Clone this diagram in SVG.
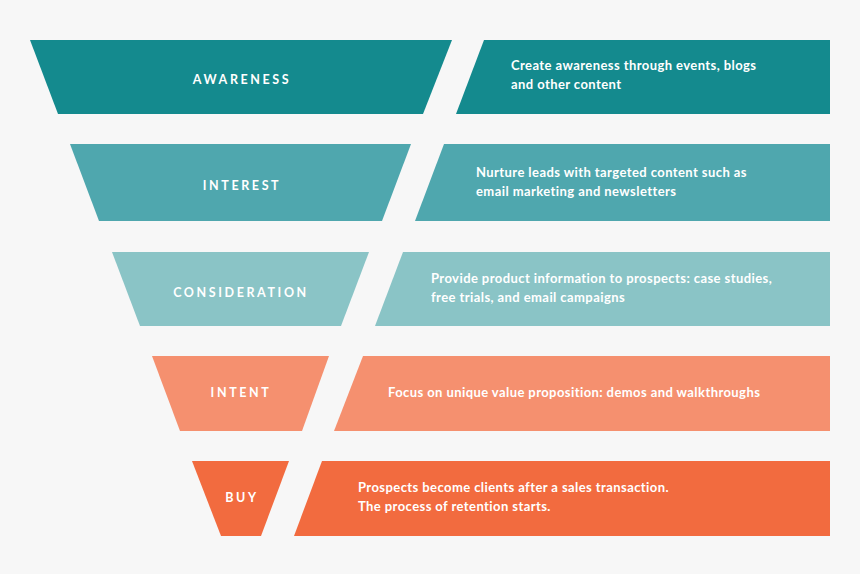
<svg xmlns="http://www.w3.org/2000/svg" width="860" height="574" viewBox="0 0 860 574">
<style>
.lbl{font-family:Lato,"Liberation Sans",sans-serif;font-weight:bold;font-size:12.5px;fill:#fff;letter-spacing:2.6px;text-anchor:middle}
.desc{font-family:Lato,"Liberation Sans",sans-serif;font-weight:bold;font-size:13px;fill:#fff;letter-spacing:0.42px}
.c1{fill:#148A8E}.c2{fill:#4FA7AE}.c3{fill:#8AC4C6}.c4{fill:#F5906F}.c5{fill:#F26B3F}
</style>
<rect width="860" height="574" fill="#F7F7F7"/>
<g id="awareness">
<polygon class="c1" points="30,40 452,40 423,114 58,114"/>
<text class="lbl" x="242" y="84">AWARENESS</text>
</g>
<g id="awareness-desc">
<polygon class="c1" points="484,40 830,40 830,114 456,114"/>
<text class="desc" x="511" y="70">Create awareness through events, blogs</text>
<text class="desc" x="511" y="89">and other content</text>
</g>
<g id="interest">
<polygon class="c2" points="70,144 411,144 382,221 99,221"/>
<text class="lbl" x="242" y="190">INTEREST</text>
</g>
<g id="interest-desc">
<polygon class="c2" points="444,144 830,144 830,221 415,221"/>
<text class="desc" x="476" y="177">Nurture leads with targeted content such as</text>
<text class="desc" x="476" y="196">email marketing and newsletters</text>
</g>
<g id="consideration">
<polygon class="c3" points="112,252 369,252 341,326 140,326"/>
<text class="lbl" x="241" y="297">CONSIDERATION</text>
</g>
<g id="consideration-desc">
<polygon class="c3" points="403,252 830,252 830,326 375,326"/>
<text class="desc" x="431" y="283">Provide product information to prospects: case studies,</text>
<text class="desc" x="431" y="302">free trials, and email campaigns</text>
</g>
<g id="intent">
<polygon class="c4" points="152,356 329,356 302,431 180,431"/>
<text class="lbl" x="241" y="397">INTENT</text>
</g>
<g id="intent-desc">
<polygon class="c4" points="363,356 830,356 830,431 334,431"/>
<text class="desc" x="388" y="397">Focus on unique value proposition: demos and walkthroughs</text>
</g>
<g id="buy">
<polygon class="c5" points="192,461 289,461 261,536 221,536"/>
<text class="lbl" x="242" y="502">BUY</text>
</g>
<g id="buy-desc">
<polygon class="c5" points="322,461 830,461 830,536 294,536"/>
<text class="desc" x="358" y="492">Prospects become clients after a sales transaction.</text>
<text class="desc" x="358" y="511">The process of retention starts.</text>
</g>
<g id="connectors"/>
</svg>
